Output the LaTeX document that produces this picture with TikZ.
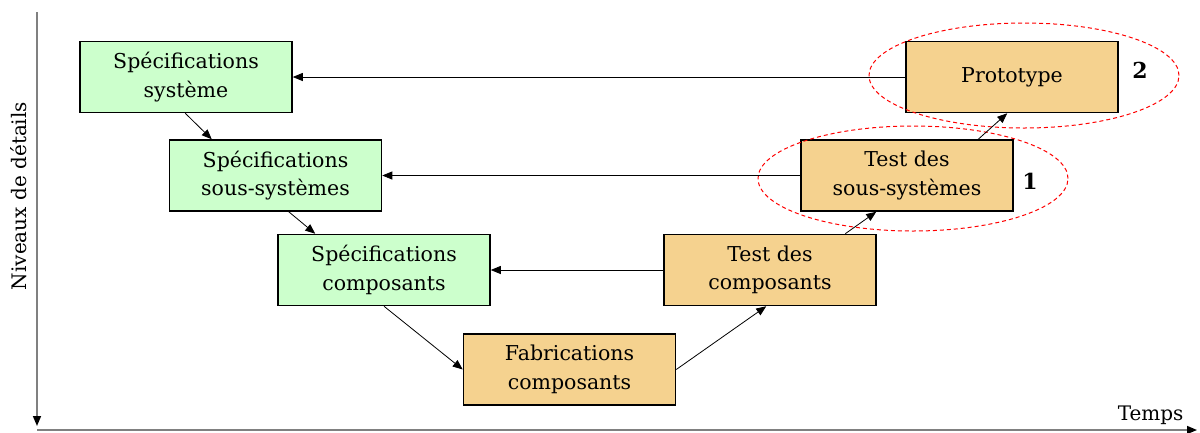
\documentclass[tikz,border=0pt]{standalone}
\usepackage{fontspec}
\setmainfont{DejaVu Serif}
\usetikzlibrary{arrows.meta,shapes.geometric}
\definecolor{specgreen}{HTML}{CCFFCC}
\definecolor{testorange}{HTML}{F5D28F}
\definecolor{axisgray}{HTML}{808080}
\tikzset{
  stagebox/.style={draw=black, line width=1.5pt, minimum width=212pt, minimum height=71pt, inner sep=0pt, align=center, font=\fontsize{20.5}{28.5}\selectfont},
  specbox/.style={stagebox, fill=specgreen},
  testbox/.style={stagebox, fill=testorange},
  conn/.style={draw=black, line width=0.8pt, -{Triangle[length=10pt,width=8pt]}},
  axisline/.style={draw=axisgray, line width=1.5pt, -{Triangle[length=10pt,width=8pt,color=black]}},
  groupring/.style={draw=red, line width=1pt, dash pattern=on 4pt off 3pt, ellipse, minimum width=310pt, minimum height=105pt},
  numlabel/.style={font=\fontsize{22}{24}\selectfont\bfseries},
  axislabel/.style={font=\fontsize{20}{22}\selectfont}
}
\begin{document}
\begin{tikzpicture}[x=1pt,y=-1pt]
\useasboundingbox (0,0) rectangle (1200,432);
% axes
\coordinate (ytop) at (37,12);
\coordinate (ybot) at (37,426);
\coordinate (xleft) at (37,430);
\coordinate (xright) at (1197,430);
\draw[axisline] (ytop) -- (ybot);
\draw[axisline] (xleft) -- (xright);
\node[axislabel, rotate=90] (niv) at (19,196) {Niveaux de détails};
\node[axislabel, anchor=base east] (temps) at (1187,420) {Temps};
% boxes
\node[specbox] (sys) at (186,77) {Spécifications\\système};
\node[specbox] (ssys) at (275.5,175.5) {Spécifications\\sous-systèmes};
\node[specbox] (comp) at (384,270) {Spécifications\\composants};
\node[testbox] (fab) at (569.5,369.5) {Fabrications\\composants};
\node[testbox] (tcomp) at (770,270) {Test des\\composants};
\node[testbox] (tssys) at (907,175.5) {Test des\\sous-systèmes};
\node[testbox] (proto) at (1012,77) {Prototype};
% groups
\node[groupring] (ring2) at (1024,75.5) {};
\node[groupring] (ring1) at (913,178.5) {};
\node[numlabel] (n2) at (1140,70) {2};
\node[numlabel] (n1) at (1030,181) {1};
% descending branch
\draw[conn] ([xshift=106pt]sys.south west) -- ([xshift=43pt]ssys.north west);
\draw[conn] ([xshift=120pt]ssys.south west) -- ([xshift=38pt]comp.north west);
\draw[conn] (comp.south) -- (fab.west);
% ascending branch
\draw[conn] (fab.east) -- ([xshift=103pt]tcomp.south west);
\draw[conn] ([xshift=182pt]tcomp.north west) -- ([xshift=76pt]tssys.south west);
\draw[conn] ([xshift=178pt]tssys.north west) -- ([xshift=102pt]proto.south west);
% horizontal returns
\draw[conn] (proto.west) -- (sys.east);
\draw[conn] (tssys.west) -- (ssys.east);
\draw[conn] (tcomp.west) -- (comp.east);
\end{tikzpicture}
\end{document}
